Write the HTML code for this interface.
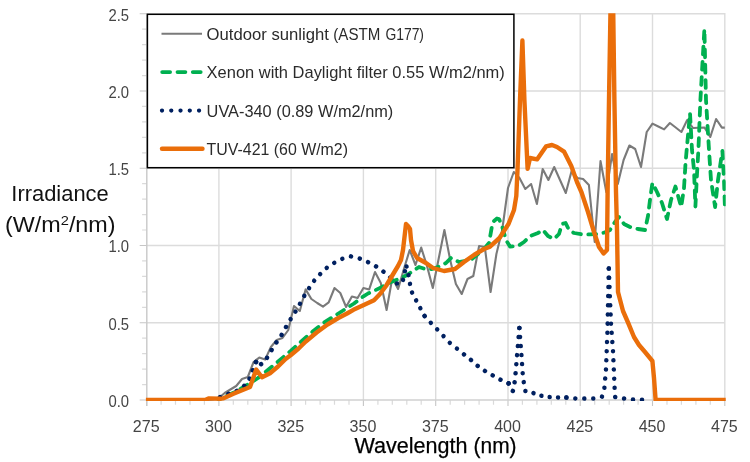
<!DOCTYPE html>
<html lang="en"><head><meta charset="utf-8"><title>Irradiance vs Wavelength</title>
<style>html,body{margin:0;padding:0;background:#fff}svg{display:block}</style></head>
<body>
<svg width="750" height="462" viewBox="0 0 750 462" font-family="'Liberation Sans', sans-serif">
<rect width="750" height="462" fill="#fff"/>
<defs><clipPath id="pc"><rect x="145.9" y="13.2" width="579.8" height="387.9"/></clipPath></defs>
<path d="M218.9 13.7V400M291.1 13.7V400M363.4 13.7V400M435.7 13.7V400M508.0 13.7V400M580.2 13.7V400M652.5 13.7V400M724.8 13.7V400M146.8 322.8H725.5M146.8 245.5H725.5M146.8 168.2H725.5M146.8 91.0H725.5M146.8 13.8H725.5" stroke="#dcdcdc" stroke-width="1.4" fill="none"/>
<path d="M161.1 400v4.7M175.5 400v4.7M190.0 400v4.7M204.4 400v4.7M233.3 400v4.7M247.8 400v4.7M262.2 400v4.7M276.7 400v4.7M305.6 400v4.7M320.1 400v4.7M334.5 400v4.7M349.0 400v4.7M377.9 400v4.7M392.3 400v4.7M406.8 400v4.7M421.2 400v4.7M450.2 400v4.7M464.6 400v4.7M479.1 400v4.7M493.5 400v4.7M522.4 400v4.7M536.9 400v4.7M551.3 400v4.7M565.8 400v4.7M594.7 400v4.7M609.2 400v4.7M623.6 400v4.7M638.1 400v4.7M667.0 400v4.7M681.4 400v4.7M695.9 400v4.7M710.3 400v4.7M146.8 384.6h-4.7M146.8 369.1h-4.7M146.8 353.6h-4.7M146.8 338.2h-4.7M146.8 307.3h-4.7M146.8 291.9h-4.7M146.8 276.4h-4.7M146.8 260.9h-4.7M146.8 230.0h-4.7M146.8 214.6h-4.7M146.8 199.2h-4.7M146.8 183.7h-4.7M146.8 152.8h-4.7M146.8 137.3h-4.7M146.8 121.9h-4.7M146.8 106.4h-4.7M146.8 75.6h-4.7M146.8 60.1h-4.7M146.8 44.6h-4.7M146.8 29.2h-4.7" stroke="#dadada" stroke-width="1.2" fill="none"/>
<path d="M146.6 400v6.0M218.9 400v6.0M291.1 400v6.0M363.4 400v6.0M435.7 400v6.0M508.0 400v6.0M580.2 400v6.0M652.5 400v6.0M724.8 400v6.0M146.8 400.0h-7.1M146.8 322.8h-7.1M146.8 245.5h-7.1M146.8 168.2h-7.1M146.8 91.0h-7.1M146.8 13.8h-7.1" stroke="#c6c6c6" stroke-width="1.1" fill="none"/>
<path d="M146.8 13.2V406" stroke="#c8c8c8" stroke-width="1.4" fill="none"/>
<path d="M146 400H725.5" stroke="#d0d0d0" stroke-width="1.4" fill="none"/>
<g clip-path="url(#pc)" fill="none" stroke-linejoin="round">
<path d="M207.3 400.0 L213.1 399.5 L218.9 398.0 L224.7 393.0 L230.4 389.5 L236.2 386.0 L242.0 379.0 L247.8 377.0 L253.6 362.0 L259.3 357.6 L265.1 359.6 L270.9 347.0 L276.7 340.0 L282.5 338.0 L288.3 330.0 L294.0 306.0 L299.8 311.0 L305.6 289.4 L311.4 299.0 L317.2 303.0 L323.0 306.6 L328.7 302.4 L334.5 288.0 L340.3 293.0 L346.1 307.0 L351.9 296.6 L357.6 298.0 L363.4 288.0 L369.2 289.4 L375.0 272.0 L380.8 283.0 L386.6 310.0 L392.3 278.0 L398.1 289.0 L403.9 269.0 L409.7 250.0 L415.5 265.0 L421.2 247.6 L427.0 266.0 L432.8 288.0 L438.6 259.0 L444.4 230.0 L450.2 260.0 L455.9 284.0 L461.7 294.0 L467.5 279.0 L473.3 276.0 L479.1 246.0 L484.8 247.0 L490.6 292.0 L496.4 254.0 L502.2 230.0 L508.0 188.0 L513.8 172.0 L519.5 178.0 L525.3 189.0 L531.1 184.0 L536.9 204.0 L542.7 169.0 L548.4 180.0 L554.2 167.0 L560.0 180.0 L565.8 193.0 L571.6 171.0 L577.4 178.0 L583.1 179.0 L588.9 185.0 L594.7 242.0 L600.5 161.0 L606.3 192.0 L612.1 154.0 L617.8 184.0 L623.6 160.0 L629.4 145.5 L635.2 149.0 L641.0 167.0 L646.7 132.0 L652.5 123.6 L658.3 126.5 L664.1 129.4 L669.9 123.0 L675.7 127.5 L681.4 132.0 L687.2 120.0 L693.0 128.0 L698.8 127.8 L704.6 127.6 L710.3 137.0 L716.1 119.0 L721.9 127.6 L724.8 127.6" stroke="#7a7a7a" stroke-width="2.1"/>
<path d="M219.0 399.5 L234.0 392.5 L247.0 385.0 L258.0 378.0 L270.0 368.2 L283.0 357.4 L291.0 350.6 L300.0 342.6 L313.0 331.3 L323.7 322.8 L340.0 312.5 L354.0 303.5 L363.5 296.3 L368.0 293.5 L380.0 288.0 L390.0 282.4 L400.0 278.6 L407.0 275.0 L419.0 267.0 L425.0 269.0 L432.0 269.0 L438.0 267.0 L446.0 263.0 L451.0 258.0 L459.0 262.0 L464.0 261.0 L472.0 259.0 L484.0 249.0 L489.0 243.0 L492.0 226.0 L494.0 221.0 L497.0 218.5 L499.0 219.0 L502.0 226.0 L506.0 240.0 L510.0 246.6 L518.0 246.0 L524.0 242.0 L530.0 236.0 L538.0 233.0 L543.0 230.0 L548.0 236.0 L554.0 239.0 L559.0 234.0 L562.0 224.0 L565.6 223.0 L569.0 230.0 L574.0 233.0 L582.0 234.4 L590.0 234.4 L598.0 234.0 L605.0 232.4 L610.0 230.0 L615.0 222.0 L619.0 217.0 L624.0 224.0 L630.0 227.0 L638.0 229.0 L645.0 230.0 L648.0 216.0 L650.0 200.0 L652.4 183.0 L657.0 192.0 L662.0 203.0 L667.0 219.0 L671.0 200.0 L675.4 186.5 L681.2 207.0 L684.0 188.0 L685.6 162.0 L690.0 113.0 L692.0 150.0 L694.0 170.0 L695.4 206.5 L697.0 174.0 L698.4 150.0 L700.4 100.0 L704.4 29.0 L706.0 100.0 L709.0 150.0 L711.0 180.0 L715.1 207.0 L718.0 180.0 L721.0 160.0 L722.4 151.0 L724.0 180.0 L725.0 210.0" stroke="#00b050" stroke-width="3.8" stroke-linecap="round" stroke-dasharray="7.9 7.4" stroke-dashoffset="6.6"/>
<path d="M220.0 397.0 L228.0 394.0 L236.6 391.0 L244.0 386.0 L249.4 379.0 L252.6 370.6 L254.6 364.0 L256.0 362.0" stroke="#002060" stroke-width="4.5" stroke-linecap="round" stroke-dasharray="0.01 8.948"/>
<path d="M256.0 362.0 L257.6 359.3 L261.3 364.4 L266.6 358.4 L271.6 350.0 L276.4 342.4 L281.6 335.0 L286.0 327.0 L290.6 319.2" stroke="#002060" stroke-width="4.5" stroke-linecap="round" stroke-dasharray="0.01 9.053"/>
<path d="M290.6 319.2 L295.6 311.4 L300.0 303.6 L304.4 295.6 L309.2 288.0 L314.4 280.4 L320.6 273.6 L327.2 267.4 L334.6 262.6 L342.8 258.6 L351.0 256.4" stroke="#002060" stroke-width="4.5" stroke-linecap="round" stroke-dasharray="0.01 9.014"/>
<path d="M351.0 256.4 L359.4 258.4 L367.8 262.0 L376.0 266.4 L383.4 271.6 L390.0 277.4 L397.0 283.6" stroke="#002060" stroke-width="4.5" stroke-linecap="round" stroke-dasharray="0.01 9.034"/>
<path d="M397.0 283.6 L402.0 283.6 L404.4 275.0 L406.0 264.5 L408.0 272.0 L410.0 284.0 L412.0 292.4 L418.0 304.0 L424.6 316.0" stroke="#002060" stroke-width="4.5" stroke-linecap="round" stroke-dasharray="0.01 8.864"/>
<path d="M424.6 316.0 L431.0 323.0 L437.4 329.6 L443.6 336.2 L450.0 343.0 L457.0 348.6 L464.0 354.4" stroke="#002060" stroke-width="4.5" stroke-linecap="round" stroke-dasharray="0.01 9.178"/>
<path d="M464.0 354.4 L471.0 360.0 L477.6 365.8 L485.0 371.0 L493.0 375.6 L501.0 380.0 L508.6 383.4" stroke="#002060" stroke-width="4.5" stroke-linecap="round" stroke-dasharray="0.01 8.903"/>
<path d="M508.6 383.4 L511.0 390.0 L513.0 391.0 L515.0 380.0 L517.0 356.0 L519.4 328.0" stroke="#002060" stroke-width="4.5" stroke-linecap="round" stroke-dasharray="0.01 9.068"/>
<path d="M519.4 328.0 L521.5 356.0 L523.0 378.0 L525.4 391.0" stroke="#002060" stroke-width="4.5" stroke-linecap="round" stroke-dasharray="0.01 9.040"/>
<path d="M525.4 391.0 L532.0 392.6 L539.4 395.4 L548.0 397.0 L557.4 397.4 L566.4 397.6" stroke="#002060" stroke-width="4.5" stroke-linecap="round" stroke-dasharray="0.01 8.362"/>
<path d="M566.4 397.6 L575.4 398.4 L584.4 398.6 L593.4 398.6 L602.0 396.6" stroke="#002060" stroke-width="4.5" stroke-linecap="round" stroke-dasharray="0.01 8.957"/>
<path d="M602.0 396.6 L604.4 388.0 L606.0 369.0 L607.4 333.0 L608.8 268.6" stroke="#002060" stroke-width="4.5" stroke-linecap="round" stroke-dasharray="0.01 9.164"/>
<path d="M608.8 268.6 L611.0 324.0 L613.0 351.0 L614.6 388.0 L615.2 397.0" stroke="#002060" stroke-width="4.5" stroke-linecap="round" stroke-dasharray="0.01 9.174"/>
<path d="M615.2 397.0 L623.4 398.4 L632.4 399.6 L651.0 399.7" stroke="#002060" stroke-width="4.5" stroke-linecap="round" stroke-dasharray="0.01 8.990"/>
<path d="M145.0 400.0 L205.0 400.0 L209.0 398.4 L220.0 398.8 L223.0 398.4 L234.0 393.6 L250.0 387.0 L256.2 369.6 L262.0 377.3 L270.0 373.2 L278.0 366.5 L285.6 359.0 L290.6 355.3 L298.6 348.5 L305.8 341.5 L316.6 332.5 L327.5 324.5 L338.3 318.0 L347.0 313.5 L353.4 309.8 L364.3 304.8 L374.0 300.2 L380.0 294.0 L386.0 286.0 L392.0 276.0 L398.0 266.0 L401.0 260.0 L403.0 250.0 L404.5 237.0 L406.0 224.0 L408.0 226.0 L410.0 229.0 L411.0 240.0 L413.0 251.0 L417.0 258.0 L426.0 263.0 L433.0 268.0 L444.0 271.0 L455.0 269.0 L464.0 262.0 L474.0 255.0 L484.0 249.0 L490.0 246.6 L499.5 238.0 L508.5 224.0 L514.0 210.0 L516.3 196.0 L517.5 170.0 L520.0 100.0 L522.4 40.5 L524.4 100.0 L527.6 168.8 L530.0 158.0 L537.0 159.4 L546.0 146.4 L552.0 145.0 L557.0 147.0 L564.0 151.6 L571.3 166.0 L577.0 182.0 L581.4 192.0 L588.0 212.0 L594.0 232.0 L599.0 247.0 L603.6 253.5 L607.0 250.0 L607.6 192.0 L609.0 100.0 L612.0 -80.0 L614.4 100.0 L616.0 192.0 L617.0 230.0 L618.0 292.0 L623.0 311.0 L628.0 322.5 L634.0 337.0 L639.0 345.0 L645.0 352.0 L652.4 361.0 L654.0 378.0 L655.6 400.0 L727.0 400.0" stroke="#ea6e0a" stroke-width="4.4" stroke-linecap="butt"/>
</g>
<rect x="147.4" y="14.3" width="366.5" height="153.4" fill="#fff" stroke="#000" stroke-width="1.5"/>
<path d="M161.5 33.8H202" stroke="#7a7a7a" stroke-width="2" fill="none"/>
<path d="M162.2 72.1H202" stroke="#00b050" stroke-width="3.8" stroke-linecap="round" stroke-dasharray="7.9 7.4" fill="none"/>
<path d="M162 110.6H200" stroke="#002060" stroke-width="4.3" stroke-linecap="round" stroke-dasharray="0.01 9.25" fill="none"/>
<path d="M162 148.7H202.5" stroke="#ea6e0a" stroke-width="4.4" stroke-linecap="round" fill="none"/>
<text y="39.7" font-size="16.4" fill="#2b2b2b"><tspan x="206.6" textLength="122.3" lengthAdjust="spacingAndGlyphs">Outdoor sunlight</tspan> <tspan x="333.3" textLength="47.0" lengthAdjust="spacingAndGlyphs">(ASTM</tspan> <tspan x="385.4" textLength="38.6" lengthAdjust="spacingAndGlyphs">G177)</tspan></text>
<text y="77.9" font-size="16.4" fill="#2b2b2b"><tspan x="206.6" textLength="298.2" lengthAdjust="spacingAndGlyphs">Xenon with Daylight filter 0.55 W/m2/nm)</tspan></text>
<text y="116.8" font-size="16.4" fill="#2b2b2b"><tspan x="206.6" textLength="186.7" lengthAdjust="spacingAndGlyphs">UVA-340 (0.89 W/m2/nm)</tspan></text>
<text y="155.0" font-size="16.4" fill="#2b2b2b"><tspan x="206.6" textLength="141.4" lengthAdjust="spacingAndGlyphs">TUV-421 (60 W/m2)</tspan></text>
<text x="129.0" y="406.8" font-size="16.5" fill="#454545" text-anchor="end" textLength="20.6" lengthAdjust="spacingAndGlyphs">0.0</text>
<text x="129.0" y="329.6" font-size="16.5" fill="#454545" text-anchor="end" textLength="20.6" lengthAdjust="spacingAndGlyphs">0.5</text>
<text x="129.0" y="252.3" font-size="16.5" fill="#454545" text-anchor="end" textLength="20.6" lengthAdjust="spacingAndGlyphs">1.0</text>
<text x="129.0" y="175.1" font-size="16.5" fill="#454545" text-anchor="end" textLength="20.6" lengthAdjust="spacingAndGlyphs">1.5</text>
<text x="129.0" y="97.8" font-size="16.5" fill="#454545" text-anchor="end" textLength="20.6" lengthAdjust="spacingAndGlyphs">2.0</text>
<text x="129.0" y="20.6" font-size="16.5" fill="#454545" text-anchor="end" textLength="20.6" lengthAdjust="spacingAndGlyphs">2.5</text>
<text x="146.2" y="431.9" font-size="16.3" fill="#454545" text-anchor="middle" textLength="26.8" lengthAdjust="spacingAndGlyphs">275</text>
<text x="218.5" y="431.9" font-size="16.3" fill="#454545" text-anchor="middle" textLength="26.8" lengthAdjust="spacingAndGlyphs">300</text>
<text x="290.8" y="431.9" font-size="16.3" fill="#454545" text-anchor="middle" textLength="26.8" lengthAdjust="spacingAndGlyphs">325</text>
<text x="363.0" y="431.9" font-size="16.3" fill="#454545" text-anchor="middle" textLength="26.8" lengthAdjust="spacingAndGlyphs">350</text>
<text x="435.3" y="431.9" font-size="16.3" fill="#454545" text-anchor="middle" textLength="26.8" lengthAdjust="spacingAndGlyphs">375</text>
<text x="507.6" y="431.9" font-size="16.3" fill="#454545" text-anchor="middle" textLength="26.8" lengthAdjust="spacingAndGlyphs">400</text>
<text x="579.9" y="431.9" font-size="16.3" fill="#454545" text-anchor="middle" textLength="26.8" lengthAdjust="spacingAndGlyphs">425</text>
<text x="652.1" y="431.9" font-size="16.3" fill="#454545" text-anchor="middle" textLength="26.8" lengthAdjust="spacingAndGlyphs">450</text>
<text x="724.4" y="431.9" font-size="16.3" fill="#454545" text-anchor="middle" textLength="26.8" lengthAdjust="spacingAndGlyphs">475</text>
<text y="452.8" font-size="21.3" fill="#000" stroke="#000" stroke-width="0.25"><tspan x="354.4" textLength="113" lengthAdjust="spacingAndGlyphs">Wavelength</tspan> <tspan x="473.6" textLength="43" lengthAdjust="spacingAndGlyphs">(nm)</tspan></text>
<text x="11.3" y="201.4" font-size="21.5" fill="#111" textLength="97.4" lengthAdjust="spacingAndGlyphs">Irradiance</text>
<text x="5.1" y="232.3" font-size="21.5" fill="#111" textLength="110.4" lengthAdjust="spacingAndGlyphs">(W/m<tspan font-size="13.5" dy="-7">2</tspan><tspan dy="7">/nm)</tspan></text>
</svg>
</body></html>
